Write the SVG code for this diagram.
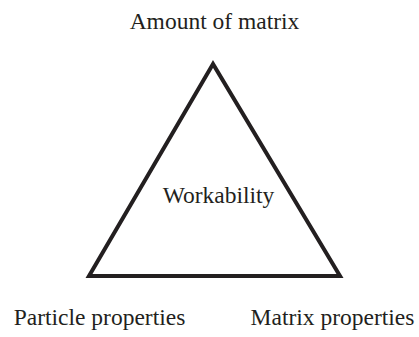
<svg xmlns="http://www.w3.org/2000/svg" width="419" height="337" viewBox="0 0 419 337">
<style>
text{font-family:"Liberation Serif","Times New Roman",serif;font-size:23.5px;fill:#231f20}
.edge{fill:none;stroke:#231f20;stroke-width:4;stroke-linejoin:miter}
</style>
<rect width="419" height="337" fill="#fff"/>
<g id="connectors">
<polygon class="edge" points="213,64 89,276 340,276"/>
</g>
<g id="node-top"><text x="214.5" y="29" text-anchor="middle">Amount of matrix</text></g>
<g id="node-center"><text x="218.5" y="203" text-anchor="middle">Workability</text></g>
<g id="node-left"><text x="99.5" y="325" text-anchor="middle">Particle properties</text></g>
<g id="node-right"><text x="332.5" y="325" text-anchor="middle">Matrix properties</text></g>
</svg>
